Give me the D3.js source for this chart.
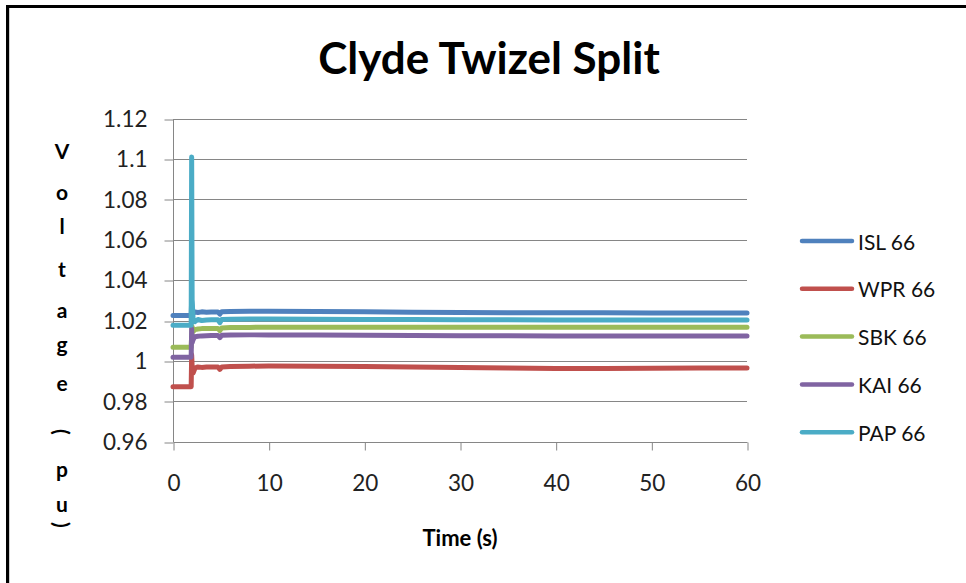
<!DOCTYPE html>
<html>
<head>
<meta charset="utf-8">
<script src="https://cdn.jsdelivr.net/npm/d3@7"></script>
<style>
  html, body { margin: 0; padding: 0; background: #fff; }
  svg { display: block; }
</style>
</head>
<body>
<svg id="chart" width="966" height="583"></svg>
<script>
// Bus voltages (pu) after the Clyde–Twizel split, sampled over 60 s
const time = [0, 1.9, 1.95, 2.0, 2.1, 2.3, 2.6, 3.0, 3.5, 4.0, 4.7, 4.9, 5.1, 6, 8, 10, 15, 20, 25, 30, 35, 40, 45, 50, 55, 60];

const isl66 = [1.0225, 1.0225, 1.030, 1.026, 1.0235, 1.0242, 1.0240, 1.0243, 1.0241, 1.0242, 1.0242, 1.0232, 1.0244, 1.0245, 1.0246, 1.0246, 1.0245, 1.0243, 1.0241, 1.0240, 1.0239, 1.0238, 1.0238, 1.0237, 1.0237, 1.0237];
const wpr66 = [0.9872, 0.9872, 1.003, 0.9975, 0.9940, 0.9965, 0.9970, 0.9968, 0.9970, 0.9970, 0.9970, 0.9958, 0.9970, 0.9972, 0.9974, 0.9975, 0.9974, 0.9972, 0.9970, 0.9967, 0.9965, 0.9963, 0.9963, 0.9964, 0.9965, 0.9965];
const sbk66 = [1.0068, 1.0068, 1.012, 1.017, 1.0145, 1.0155, 1.0158, 1.0160, 1.0160, 1.0161, 1.0161, 1.0150, 1.0163, 1.0165, 1.0166, 1.0167, 1.0167, 1.0167, 1.0167, 1.0167, 1.0167, 1.0167, 1.0167, 1.0167, 1.0167, 1.0167];
const kai66 = [1.0018, 1.0018, 1.016, 1.009, 1.0105, 1.0120, 1.0122, 1.0124, 1.0125, 1.0126, 1.0126, 1.0115, 1.0127, 1.0128, 1.0129, 1.0129, 1.0128, 1.0127, 1.0126, 1.0125, 1.0125, 1.0124, 1.0124, 1.0124, 1.0124, 1.0124];
const pap66 = [1.0177, 1.0177, 1.101, 1.030, 1.0210, 1.0195, 1.0205, 1.0200, 1.0203, 1.0204, 1.0204, 1.0190, 1.0205, 1.0206, 1.0207, 1.0207, 1.0206, 1.0205, 1.0205, 1.0204, 1.0204, 1.0203, 1.0203, 1.0203, 1.0203, 1.0203];

const seriesNames = ["ISL 66", "WPR 66", "SBK 66", "KAI 66", "PAP 66"];
const seriesValues = [isl66, wpr66, sbk66, kai66, pap66];
const seriesColors = ["#4F81BD", "#C0504D", "#9BBB59", "#8064A2", "#4BACC6"];

const xTicks = [0, 10, 20, 30, 40, 50, 60];
const yTicks = [0.96, 0.98, 1, 1.02, 1.04, 1.06, 1.08, 1.1, 1.12];
const yTickLabels = ["0.96", "0.98", "1", "1.02", "1.04", "1.06", "1.08", "1.1", "1.12"];

const titleText = "Clyde Twizel Split";
const xTitle = "Time (s)";
const yTitleChars = ["V", "o", "l", "t", "a", "g", "e", "(", "p", "u", ")"];

const svg = d3.select("#chart");
const font = "Lato, 'Open Sans', sans-serif";
const gridColor = "#868686";

// frame of the chart object (runs off the right and bottom edges)
svg.append("rect").attr("x", 9).attr("y", 7).attr("width", 970).attr("height", 590)
  .attr("fill", "none").attr("stroke", "#a0a0a0").attr("stroke-width", 1);
svg.append("line").attr("x1", 7.5).attr("x2", 7.5).attr("y1", 5).attr("y2", 583)
  .attr("stroke", "#000").attr("stroke-width", 3);
svg.append("line").attr("x1", 6).attr("x2", 966).attr("y1", 6.5).attr("y2", 6.5)
  .attr("stroke", "#000").attr("stroke-width", 3);

const plot = { left: 173, right: 747, top: 118.6, bottom: 441.7 };

const x = d3.scaleLinear().domain([0, 60]).range([plot.left, plot.right]);
const y = d3.scaleLinear().domain([0.96, 1.12]).range([plot.bottom, plot.top]);

// horizontal gridlines
svg.append("g").selectAll("line").data(yTicks.filter(v => v > 0.96)).join("line")
  .attr("x1", plot.left).attr("x2", plot.right)
  .attr("y1", d => Math.round(y(d)) + 0.5).attr("y2", d => Math.round(y(d)) + 0.5)
  .attr("stroke", gridColor).attr("stroke-width", 1);

// y axis
const yAxis = d3.axisLeft(y).tickValues(yTicks)
  .tickFormat((d, i) => yTickLabels[i]).tickSize(9).tickPadding(17);
const gy = svg.append("g").attr("transform", `translate(${plot.left + 0.5},0.5)`).call(yAxis);
gy.select(".domain").attr("stroke", gridColor).attr("d", `M0,${y(1.12)}V${y(0.96)}`);
gy.selectAll(".tick line").attr("stroke", gridColor)
  .attr("transform", d => `translate(0,${Math.round(y(d)) - y(d)})`);
gy.selectAll(".tick text").attr("font-family", font).attr("font-size", 22.5).attr("fill", "#222");

// x axis
const xAxis = d3.axisBottom(x).tickValues(xTicks).tickSize(8);
const gx = svg.append("g").attr("transform", `translate(0.5,${Math.round(plot.bottom) + 0.5})`).call(xAxis);
gx.select(".domain").attr("stroke", gridColor).attr("d", `M${plot.left},0H${plot.right}`);
gx.selectAll(".tick line").attr("stroke", gridColor);
gx.selectAll(".tick text").attr("font-family", font).attr("font-size", 22.5).attr("fill", "#222")
  .attr("y", 41).attr("dy", "0.35em");

// series lines
const line = d3.line().x((d, i) => x(time[i])).y(d => y(d));
svg.append("g").selectAll("path").data(seriesValues).join("path")
  .attr("d", d => line(d))
  .attr("fill", "none")
  .attr("stroke", (d, i) => seriesColors[i])
  .attr("stroke-width", 5)
  .attr("stroke-linejoin", "round")
  .attr("stroke-linecap", "round");

// title
svg.append("text").attr("x", 489).attr("y", 74).attr("text-anchor", "middle")
  .attr("font-family", font).attr("font-weight", 700).attr("font-size", 44)
  .attr("fill", "#000").text(titleText);

// x axis title
svg.append("text").attr("x", 460).attr("y", 546).attr("text-anchor", "middle")
  .attr("font-family", font).attr("font-weight", 700).attr("font-size", 22)
  .attr("fill", "#000").text(xTitle);

// y axis title, stacked letters
const yTitlePos = [150, 191, 225, 268, 309, 343, 382, 432, 468, 503, 525];
const yt = svg.append("g");
yTitleChars.forEach((c, i) => {
  const t = yt.append("text")
    .attr("x", 62).attr("y", yTitlePos[i])
    .attr("text-anchor", "middle").attr("dominant-baseline", "central")
    .attr("font-family", font).attr("font-weight", 700).attr("font-size", 21)
    .attr("fill", "#000").text(c);
  if (c === "(" || c === ")") t.attr("transform", `rotate(90,62,${yTitlePos[i]})`);
});

// legend
const legend = svg.append("g");
seriesNames.forEach((name, i) => {
  const ly = 241 + i * 47.8;
  legend.append("line").attr("x1", 802).attr("x2", 852).attr("y1", ly).attr("y2", ly)
    .attr("stroke", seriesColors[i]).attr("stroke-width", 4.5).attr("stroke-linecap", "round");
  legend.append("text").attr("x", 858).attr("y", ly).attr("dominant-baseline", "central")
    .attr("font-family", font).attr("font-size", 21).attr("fill", "#111").text(name);
});
</script>
</body>
</html>
